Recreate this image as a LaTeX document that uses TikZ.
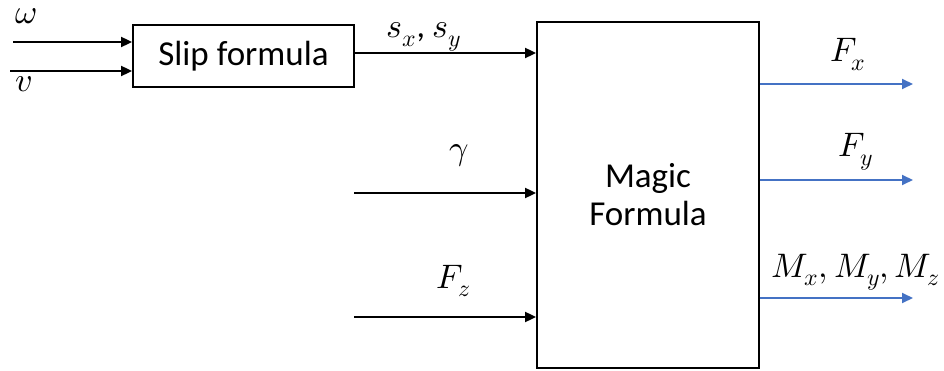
\documentclass[tikz,border=0pt]{standalone}
\usepackage{fontspec}
\usepackage{unicode-math}
\setmainfont{Carlito}
\setmathfont{Latin Modern Math}
\usetikzlibrary{arrows.meta,positioning,calc}
\definecolor{outblue}{RGB}{68,114,196}

\begin{document}
\begin{tikzpicture}[
  x=1pt, y=-1pt,
  >={Triangle[length=11pt,width=10pt]},
  every node/.style={font=\fontsize{35}{38}\selectfont},
  box/.style={draw, line width=1.8pt, align=center, inner sep=0pt},
  lbl/.style={inner sep=0pt, anchor=base, font=\fontsize{34}{38}\selectfont},
  inarrow/.style={->, line width=1.8pt},
  outarrow/.style={->, line width=1.8pt, outblue},
]
\useasboundingbox (0,0) rectangle (944,371);

\node[box, minimum width=221pt, minimum height=62pt] (slip) at (243.5,56) {Slip formula};
\node[box, minimum width=222pt, minimum height=346pt] (magic) at (648,195) {Magic\\Formula};

% inputs
\coordinate (win) at (13,42);
\coordinate (vin) at (10,71);
\coordinate (gin) at (354,193);
\coordinate (fzin) at (354,317);
\node[lbl] (wl) at (26,24) {$\omega$};
\node[lbl] (vl) at (24,92) {$v$};
\node[lbl] (sl) at (424,38) {$s_x$, $s_y$};
\node[lbl] (gl) at (459,160) {$\gamma$};
\node[lbl] (fzl) at (454,288) {$F_z$};

\draw[inarrow] (win) -- (slip.west |- win);
\draw[inarrow] (vin) -- (slip.west |- vin);
\draw[inarrow] (slip.east |- 0,53) -- (magic.west |- 0,53);
\draw[inarrow] (gin) -- (magic.west |- gin);
\draw[inarrow] (fzin) -- (magic.west |- fzin);

% outputs
\coordinate (fxo) at (913,84);
\coordinate (fyo) at (913,180);
\coordinate (mo) at (913,298);
\node[lbl] (fxl) at (848,62) {$F_x$};
\node[lbl] (fyl) at (856,157) {$F_y$};
\node[lbl] (ml) at (856,277) {$M_x, M_y, M_z$};

\draw[outarrow] (magic.east |- fxo) -- (fxo);
\draw[outarrow] (magic.east |- fyo) -- (fyo);
\draw[outarrow] (magic.east |- mo) -- (mo);
\end{tikzpicture}
\end{document}
